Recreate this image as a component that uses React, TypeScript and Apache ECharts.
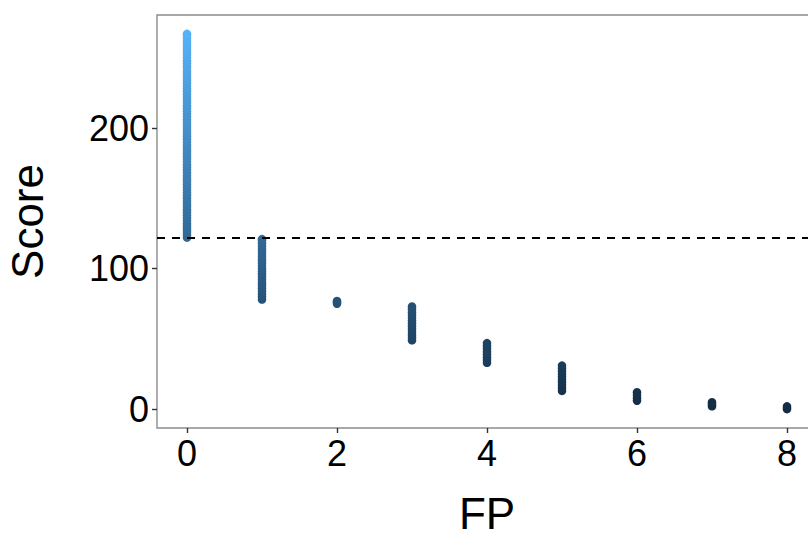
import React, { useEffect, useRef } from "react";
import * as echarts from "echarts";

const fp0 = [122, 124, 126, 128, 130, 132, 134, 136, 138, 140, 142, 144, 146, 148, 150, 152, 154, 156, 158, 160, 162, 164, 166, 168, 170, 172, 174, 176, 178, 180, 182, 184, 186, 188, 190, 192, 194, 196, 198, 200, 202, 204, 206, 208, 210, 212, 214, 216, 218, 220, 222, 224, 226, 228, 230, 232, 234, 236, 238, 240, 242, 244, 246, 248, 250, 252, 254, 256, 258, 260, 262, 264, 266, 267];
const fp1 = [78, 80, 82, 84, 86, 88, 90, 92, 94, 96, 98, 100, 102, 104, 106, 108, 110, 112, 114, 116, 118, 120, 121];
const fp2 = [75, 76, 77];
const fp3 = [49, 51, 53, 55, 57, 59, 61, 63, 65, 67, 69, 71, 73];
const fp4 = [33, 35, 37, 39, 41, 43, 45, 47];
const fp5 = [13, 15, 17, 19, 21, 23, 25, 27, 29, 31];
const fp6 = [6, 8, 10, 12];
const fp7 = [2, 3.5, 5];
const fp8 = [0, 1, 2];
const scoresByFP = [fp0, fp1, fp2, fp3, fp4, fp5, fp6, fp7, fp8];
const xTicks = [0, 2, 4, 6, 8];
const yTicks = [0, 100, 200];
const threshold = 122;

export default function App() {
  const ref = useRef<HTMLDivElement>(null);
  useEffect(() => {
    if (!ref.current) return;
    const chart = echarts.init(ref.current, undefined, { renderer: "svg" });
    const points: number[][] = [];
    scoresByFP.forEach((arr, fp) => arr.forEach((s) => points.push([fp, s])));
    const font = "Liberation Sans, Arial, sans-serif";
    chart.setOption({
      animation: false,
      backgroundColor: "#ffffff",
      grid: {
        left: 157,
        top: 15,
        width: 660,
        height: 413,
        show: true,
        borderColor: "#8c8c8c",
        borderWidth: 1.4,
        backgroundColor: "transparent",
        containLabel: false,
        outerBoundsMode: "none",
      },
      visualMap: {
        show: false,
        type: "continuous",
        seriesIndex: 0,
        dimension: 1,
        min: 0,
        max: 267,
        inRange: { color: ["#132B43", "#56B1F7"] },
      },
      xAxis: {
        type: "value",
        min: -0.4,
        max: 8.4,
        name: "FP",
        nameLocation: "middle",
        nameGap: 63,
        nameTextStyle: { fontSize: 44, color: "#000", fontFamily: font },
        splitLine: { show: false },
        axisLine: { show: false, onZero: false },
        axisTick: { show: true, inside: false, length: 5, lineStyle: { color: "#333", width: 1.4 }, customValues: xTicks },
        axisLabel: { fontSize: 36, color: "#000", fontFamily: font, margin: 7, customValues: xTicks },
      },
      yAxis: {
        type: "value",
        min: -13.4,
        max: 280.4,
        name: "Score",
        nameLocation: "middle",
        nameGap: 108,
        nameRotate: 90,
        nameTextStyle: { fontSize: 44, color: "#000", fontFamily: font },
        splitLine: { show: false },
        axisLine: { show: false, onZero: false },
        axisTick: { show: true, inside: false, length: 5, lineStyle: { color: "#333", width: 1.4 }, customValues: yTicks },
        axisLabel: { fontSize: 36, color: "#000", fontFamily: font, margin: 8, customValues: yTicks },
      },
      series: [
        {
          type: "scatter",
          data: points,
          symbolSize: 8.5,
          itemStyle: { opacity: 1 },
        },
        {
          type: "scatter",
          data: [],
          markLine: {
            silent: true,
            symbol: "none",
            label: { show: false },
            lineStyle: { color: "#000", type: [8, 7], width: 1.8 },
            data: [{ yAxis: threshold }],
          },
        },
      ],
    });
    return () => chart.dispose();
  }, []);
  return (
    <div
      ref={ref}
      style={{ position: "fixed", left: 0, top: 0, width: 808, height: 538, background: "#fff" }}
    />
  );
}
